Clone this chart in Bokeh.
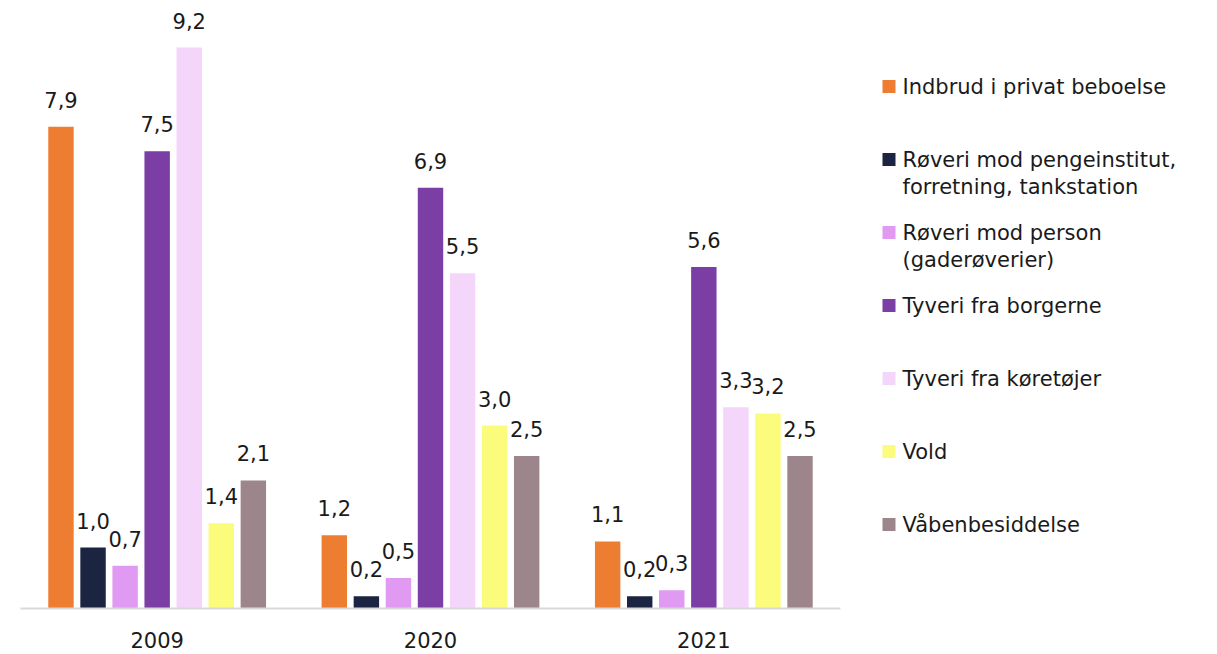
from bokeh.plotting import figure
from bokeh.models import ColumnDataSource, FactorRange, Range1d
from bokeh.transform import dodge
from bokeh.layouts import row
from bokeh.embed import file_html
from bokeh.resources import INLINE
from bokeh.core.properties import value

years = ["2009", "2020", "2021"]

series_names = [
    "Indbrud i privat beboelse",
    "Røveri mod pengeinstitut,\nforretning, tankstation",
    "Røveri mod person\n(gaderøverier)",
    "Tyveri fra borgerne",
    "Tyveri fra køretøjer",
    "Vold",
    "Våbenbesiddelse",
]

indbrud = [7.9, 1.2, 1.1]
roveri_penge = [1.0, 0.2, 0.2]
roveri_person = [0.7, 0.5, 0.3]
tyveri_borgerne = [7.5, 6.9, 5.6]
tyveri_koretojer = [9.2, 5.5, 3.3]
vold = [1.4, 3.0, 3.2]
vaaben = [2.1, 2.5, 2.5]

series_values = [indbrud, roveri_penge, roveri_person, tyveri_borgerne,
                 tyveri_koretojer, vold, vaaben]

colors = ["#ED7D31", "#1B2440", "#E09AF2", "#7A3EA4", "#F3D6FA", "#FBFC7C", "#9C868C"]

FONT = "DejaVu Sans"
TXT = "#1a1a1a"

p = figure(x_range=FactorRange(*years), y_range=Range1d(0, 9.84),
           frame_width=820, frame_height=600,
           min_border_left=20, min_border_right=8, min_border_top=8, min_border_bottom=46,
           y_axis_location=None, output_backend="svg", toolbar_location=None)
p.xgrid.visible = False
p.ygrid.visible = False
p.outline_line_color = None
p.xaxis.axis_line_color = "#d9d9d9"
p.xaxis.axis_line_width = 2
p.xaxis.major_tick_line_color = None
p.xaxis.minor_tick_line_color = None
p.xaxis.major_tick_out = 0
p.xaxis.major_tick_in = 0
p.xaxis.major_label_standoff = 23
p.xaxis.major_label_text_font = FONT
p.xaxis.major_label_text_font_size = "21px"
p.xaxis.major_label_text_color = TXT

pitch = 0.1173
bar_w = 0.093
n = len(series_values)
for i, (vals, col) in enumerate(zip(series_values, colors)):
    off = (i - (n - 1) / 2) * pitch
    src = ColumnDataSource(dict(year=years, v=vals,
                                lab=[f"{v:.1f}".replace(".", ",") for v in vals]))
    p.vbar(x=dodge("year", off, range=p.x_range), top="v", width=bar_w, source=src,
           fill_color=col, line_color=None)
    p.text(x=dodge("year", off, range=p.x_range), y="v", text="lab", source=src,
           text_align="center", text_baseline="alphabetic", y_offset=-27,
           text_font=value(FONT), text_font_size="21px", text_color=TXT)

# Legend panel
lg = figure(x_range=Range1d(0, 360), y_range=Range1d(654, 0),
            frame_width=360, frame_height=654,
            min_border=0, x_axis_location=None, y_axis_location=None,
            output_backend="svg", toolbar_location=None)
lg.xgrid.visible = False
lg.ygrid.visible = False
lg.outline_line_color = None

item_gap = 73
line_h = 28
first_y = 78
mk_y = [first_y + item_gap * i for i in range(n)]
txt_y = [first_y + item_gap * i + (s.count("\n")) * line_h / 2 for i, s in enumerate(series_names)]
lsrc = ColumnDataSource(dict(mx=[40.5] * n, my=mk_y, tx=[54] * n, ty=txt_y,
                             name=series_names, color=colors))
lg.scatter(x="mx", y="my", marker="square", size=13, fill_color="color",
           line_color=None, source=lsrc)
lg.text(x="tx", y="ty", text="name", source=lsrc, text_align="left",
        text_baseline="middle", text_font=value(FONT), text_font_size="21px",
        text_line_height=1.15, text_color=TXT)

layout = row(p, lg)
open("out.html", "w").write(file_html(layout, INLINE))
